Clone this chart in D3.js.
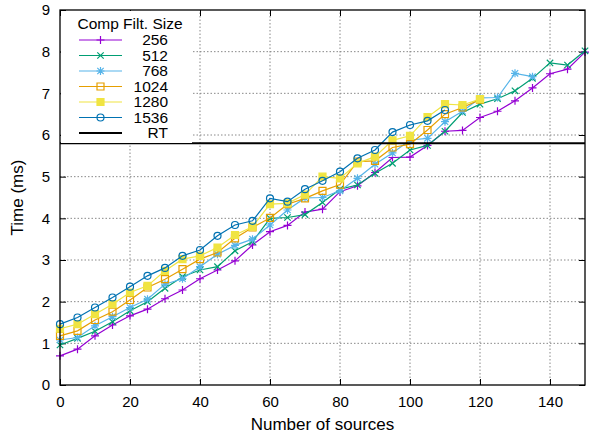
<!DOCTYPE html>
<html>
<head>
<meta charset="utf-8">
<script src="https://cdn.jsdelivr.net/npm/d3@7"></script>
<style>
  body { margin: 0; background: #fff; }
  text { font-family: "Liberation Sans", Arial, sans-serif; fill: #000; }
</style>
</head>
<body>
<div id="chart"></div>
<script>
// Data
const sources = d3.range(0, 151, 5);
const s256 = [0.70, 0.86, 1.18, 1.44, 1.66, 1.82, 2.07, 2.28, 2.55, 2.76, 2.98, 3.36, 3.68, 3.83, 4.15, 4.22,
  4.64, 4.78, 5.10, 5.46, 5.47, 5.75, 6.09, 6.11, 6.42, 6.57, 6.82, 7.13, 7.47, 7.58, 7.99];
const s512 = [0.96, 1.12, 1.29, 1.52, 1.78, 2.00, 2.32, 2.60, 2.76, 2.84, 3.22, 3.44, 4.00, 4.02, 4.09, 4.38,
  4.70, 4.80, 5.08, 5.32, 5.64, 5.75, 6.09, 6.54, 6.74, 6.87, 7.06, 7.36, 7.73, 7.68, 8.02];
const s768 = [1.08, 1.14, 1.42, 1.64, 1.86, 2.06, 2.42, 2.55, 2.84, 3.14, 3.35, 3.50, 3.84, 4.20, 4.49, 4.50,
  4.66, 4.96, 5.30, 5.57, 5.88, 5.92, 6.32, 6.57, 6.89, 6.90, 7.48, 7.40];
const s1024 = [1.18, 1.30, 1.56, 1.76, 2.04, 2.34, 2.54, 2.78, 3.02, 3.18, 3.52, 3.78, 4.01, 4.34, 4.48, 4.66,
  4.81, 5.36, 5.38, 5.70, 5.78, 6.12, 6.50, 6.66, 6.85];
const s1280 = [1.35, 1.46, 1.70, 1.94, 2.22, 2.38, 2.74, 3.02, 3.10, 3.30, 3.60, 3.80, 4.34, 4.36, 4.57, 5.00,
  4.96, 5.32, 5.48, 5.87, 5.98, 6.43, 6.74, 6.72, 6.86];
const s1536 = [1.46, 1.62, 1.86, 2.10, 2.36, 2.62, 2.81, 3.10, 3.24, 3.58, 3.84, 3.94, 4.48, 4.40, 4.70, 4.90,
  5.12, 5.44, 5.64, 6.07, 6.24, 6.34, 6.60];
const rtValue = 5.8;
const rtRange = [0, 150];
const xTicks = [0, 20, 40, 60, 80, 100, 120, 140];
const yTicks = [0, 1, 2, 3, 4, 5, 6, 7, 8, 9];

const series = [
  { name: "256", values: s256, color: "#9400d3", marker: "plus" },
  { name: "512", values: s512, color: "#009e73", marker: "cross" },
  { name: "768", values: s768, color: "#56b4e9", marker: "star" },
  { name: "1024", values: s1024, color: "#e69f00", marker: "square" },
  { name: "1280", values: s1280, color: "#f0e442", marker: "fsquare" },
  { name: "1536", values: s1536, color: "#0072b2", marker: "circle" }
];

const width = 596, height = 436;
const mLeft = 60, mRight = 585, mTop = 10, mBottom = 385;

const svg = d3.select("#chart").append("svg")
  .attr("width", width)
  .attr("height", height);

const x = d3.scaleLinear().domain([0, 150]).range([mLeft, mRight]);
const y = d3.scaleLinear().domain([0, 9]).range([mBottom, mTop]);

// grid
const grid = svg.append("g")
  .attr("stroke", "#888")
  .attr("stroke-width", 1)
  .attr("stroke-dasharray", "1.5,2");
grid.selectAll(".gx").data(xTicks.slice(1))
  .enter().append("line")
  .attr("x1", d => x(d)).attr("x2", d => x(d))
  .attr("y1", mBottom).attr("y2", mTop);
grid.selectAll(".gy").data(yTicks.slice(1, -1))
  .enter().append("line")
  .attr("x1", mLeft).attr("x2", mRight)
  .attr("y1", d => y(d)).attr("y2", d => y(d));

// axes (ticks pointing inward, mirrored)
const xAxis = d3.axisBottom(x).tickValues(xTicks).tickSize(-6).tickPadding(11);
const yAxis = d3.axisLeft(y).tickValues(yTicks).tickSize(-6).tickPadding(10);
svg.append("g").attr("transform", `translate(0,${mBottom})`).call(xAxis);
svg.append("g").attr("transform", `translate(${mLeft},0)`).call(yAxis);
svg.append("g").attr("transform", `translate(0,${mTop})`)
  .call(d3.axisTop(x).tickValues(xTicks).tickSize(-6).tickFormat(""));
svg.append("g").attr("transform", `translate(${mRight},0)`)
  .call(d3.axisRight(y).tickValues(yTicks).tickSize(-6).tickFormat(""));
svg.selectAll(".domain").remove();
svg.selectAll(".tick text")
  .style("font-family", '"Liberation Sans", Arial, sans-serif')
  .style("font-size", "15px");

// markers
function markerPath(type, r) {
  const p = d3.path();
  if (type === "plus" || type === "star") {
    p.moveTo(-r, 0); p.lineTo(r, 0);
    p.moveTo(0, -r); p.lineTo(0, r);
  }
  if (type === "cross" || type === "star") {
    const k = r * 0.8;
    p.moveTo(-k, -k); p.lineTo(k, k);
    p.moveTo(-k, k); p.lineTo(k, -k);
  }
  if (type === "square" || type === "fsquare") {
    p.rect(-r + 0.5, -r + 0.5, 2 * r - 1, 2 * r - 1);
  }
  if (type === "circle") {
    p.moveTo(r - 0.5, 0);
    p.arc(0, 0, r - 0.5, 0, 2 * Math.PI);
  }
  return p.toString();
}

const line = d3.line()
  .x((d, i) => x(sources[i]))
  .y(d => y(d));

const plot = svg.append("g");
series.forEach(s => {
  const g = plot.append("g");
  g.append("path")
    .datum(s.values)
    .attr("fill", "none")
    .attr("stroke", s.color)
    .attr("stroke-width", 1.2)
    .attr("d", line);
  g.selectAll("path.m").data(s.values)
    .enter().append("path")
    .attr("class", "m")
    .attr("transform", (d, i) => `translate(${x(sources[i])},${y(d)})`)
    .attr("d", markerPath(s.marker, 4))
    .attr("fill", s.marker === "fsquare" ? s.color : "none")
    .attr("stroke", s.color)
    .attr("stroke-width", 1.2);
});

// RT line
plot.append("line")
  .attr("x1", x(rtRange[0])).attr("x2", x(rtRange[1]))
  .attr("y1", y(rtValue)).attr("y2", y(rtValue))
  .attr("stroke", "#000")
  .attr("stroke-width", 2);

// frame
svg.append("rect")
  .attr("x", mLeft).attr("y", mTop)
  .attr("width", mRight - mLeft).attr("height", mBottom - mTop)
  .attr("fill", "none")
  .attr("stroke", "#000")
  .attr("stroke-width", 1.3);

// legend
const legend = svg.append("g");
legend.append("rect")
  .attr("x", mLeft + 1).attr("y", mTop + 1)
  .attr("width", 131).attr("height", 132)
  .attr("fill", "#fff");
legend.append("text")
  .attr("x", 130).attr("y", 24)
  .attr("dy", "0.35em")
  .attr("text-anchor", "middle")
  .style("font-size", "15.5px")
  .text("Comp Filt. Size");
const items = series.map(s => ({ name: s.name, color: s.color, marker: s.marker }))
  .concat([{ name: "RT", color: "#000", marker: null }]);
items.forEach((it, i) => {
  const yy = 40 + i * 15.5;
  legend.append("line")
    .attr("x1", 79).attr("x2", 122)
    .attr("y1", yy).attr("y2", yy)
    .attr("stroke", it.color)
    .attr("stroke-width", it.marker ? 1.2 : 2);
  if (it.marker) {
    legend.append("path")
      .attr("transform", `translate(100.5,${yy})`)
      .attr("d", markerPath(it.marker, 4))
      .attr("fill", it.marker === "fsquare" ? it.color : "none")
      .attr("stroke", it.color)
      .attr("stroke-width", 1.2);
  }
  legend.append("text")
    .attr("x", 168).attr("y", yy)
    .attr("dy", "0.35em")
    .attr("text-anchor", "end")
    .style("font-size", "15.5px")
    .text(it.name);
});

// axis titles
svg.append("text")
  .attr("x", (mLeft + mRight) / 2).attr("y", 424)
  .attr("dy", "0.35em")
  .attr("text-anchor", "middle")
  .style("font-size", "17px")
  .text("Number of sources");
svg.append("text")
  .attr("transform", `translate(17,${(mTop + mBottom) / 2}) rotate(-90)`)
  .attr("dy", "0.35em")
  .attr("text-anchor", "middle")
  .style("font-size", "17px")
  .text("Time (ms)");
</script>
</body>
</html>
